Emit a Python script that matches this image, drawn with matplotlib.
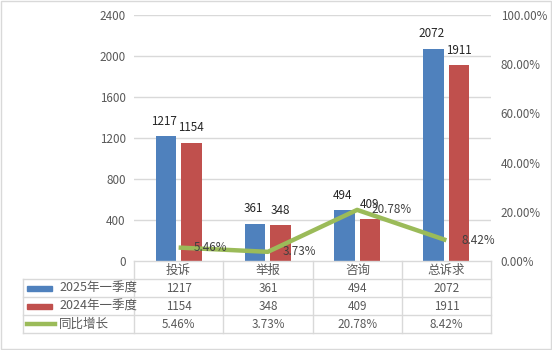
import matplotlib
matplotlib.use("Agg")
import matplotlib.pyplot as plt
from matplotlib.patches import Rectangle
from matplotlib.lines import Line2D
import numpy as np

plt.rcParams['font.family'] = ['Noto Sans CJK SC', 'DejaVu Sans']

categories = ["投诉", "举报", "咨询", "总诉求"]
series_names = ["2025年一季度", "2024年一季度", "同比增长"]
v2025 = [1217, 361, 494, 2072]
v2024 = [1154, 348, 409, 1911]
growth = [5.46, 3.73, 20.78, 8.42]
left_ticks = [0, 400, 800, 1200, 1600, 2000, 2400]
right_ticks = [0, 20, 40, 60, 80, 100]

BLUE = "#4F81BD"
RED = "#C0504D"
GREEN = "#9BBB59"
GRID = "#D9D9D9"
TXT = "#595959"
FS = 8.4

W, H = 552, 350
fig = plt.figure(figsize=(W / 100, H / 100), dpi=100)

def fx(px):
    return px / W

def fy(py):
    return 1 - py / H

ax_l, ax_r, ax_t, ax_b = 134, 491, 15, 261
ax = fig.add_axes([fx(ax_l), fy(ax_b), fx(ax_r - ax_l), (ax_b - ax_t) / H])
x = np.arange(len(categories))
bw = 0.23
gap = 0.055
ax.bar(x - (bw + gap) / 2, v2025, bw, color=BLUE, zorder=3)
ax.bar(x + (bw + gap) / 2, v2024, bw, color=RED, zorder=3)
off = 2400 / 246 * 15
for i in range(len(categories)):
    ax.text(x[i] - (bw + gap) / 2 - 0.02, v2025[i] + off, str(v2025[i]), ha="center", va="center",
            fontsize=FS, color="#262626", zorder=5)
    ax.text(x[i] + (bw + gap) / 2, v2024[i] + off, str(v2024[i]), ha="center", va="center",
            fontsize=FS, color="#262626", zorder=5)
ax.set_xlim(-0.5, len(categories) - 0.5)
ax.set_ylim(0, 2400)
ax.set_yticks(left_ticks)
ax.set_yticklabels([str(t) for t in left_ticks], fontsize=FS, color=TXT)
ax.set_xticks([])
ax.tick_params(axis="y", length=0, pad=6)
for t in left_ticks[1:]:
    ax.axhline(t, color=GRID, lw=1, zorder=1)
for s in ax.spines.values():
    s.set_visible(False)

ax2 = ax.twinx()
ax2.set_ylim(0, 100)
ax2.plot(x, growth, color=GREEN, lw=3.2, zorder=4, solid_capstyle="butt")
for i in range(len(categories)):
    ax2.text(x[i] + 0.165, growth[i], f"{growth[i]:.2f}%", ha="left", va="center",
             fontsize=FS, color="#404040", zorder=6)
ax2.set_yticks(right_ticks)
ax2.set_yticklabels([f"{t:.2f}%" for t in right_ticks], fontsize=FS, color=TXT)
ax2.tick_params(axis="y", length=0, pad=7)
for s in ax2.spines.values():
    s.set_visible(False)
ax2.set_xticks([])

# overlay for table
ov = fig.add_axes([0, 0, 1, 1], facecolor="none")
ov.set_xlim(0, W)
ov.set_ylim(H, 0)
ov.axis("off")

col_edges = [134, 223, 313, 402, 491]
row_edges = [261, 279, 297, 315, 333]
tab_left = 23
lc = "#D9D9D9"
ov.add_line(Line2D([col_edges[0], col_edges[-1]], [row_edges[0]] * 2, color=lc, lw=1))
for r in row_edges[1:]:
    ov.add_line(Line2D([tab_left, col_edges[-1]], [r, r], color=lc, lw=1))
for c in col_edges:
    ov.add_line(Line2D([c, c], [row_edges[0], row_edges[-1]], color=lc, lw=1))
ov.add_line(Line2D([tab_left, tab_left], [row_edges[1], row_edges[-1]], color=lc, lw=1))

for j, cat in enumerate(categories):
    cx = (col_edges[j] + col_edges[j + 1]) / 2
    ov.text(cx, (row_edges[0] + row_edges[1]) / 2, cat, ha="center", va="center", fontsize=FS + 0.6, color=TXT)
    ov.text(cx, (row_edges[1] + row_edges[2]) / 2, str(v2025[j]), ha="center", va="center", fontsize=FS, color=TXT)
    ov.text(cx, (row_edges[2] + row_edges[3]) / 2, str(v2024[j]), ha="center", va="center", fontsize=FS, color=TXT)
    ov.text(cx, (row_edges[3] + row_edges[4]) / 2, f"{growth[j]:.2f}%", ha="center", va="center", fontsize=FS, color=TXT)

ym1 = (row_edges[1] + row_edges[2]) / 2
ym2 = (row_edges[2] + row_edges[3]) / 2
ym3 = (row_edges[3] + row_edges[4]) / 2
ov.add_patch(Rectangle((27, ym1 - 2.5), 25, 5, color=BLUE))
ov.add_patch(Rectangle((27, ym2 - 2.5), 25, 5, color=RED))
ov.add_line(Line2D([27, 55], [ym3, ym3], color=GREEN, lw=3.2))
for ym, name in zip([ym1, ym2, ym3], series_names):
    ov.text(59, ym, name, ha="left", va="center", fontsize=FS + 0.6, color=TXT)

ov.add_patch(Rectangle((0.5, 0.5), W - 1.5, H - 1.5, fill=False, edgecolor="#D9D9D9", lw=1))

fig.savefig("out.png", dpi=100)
